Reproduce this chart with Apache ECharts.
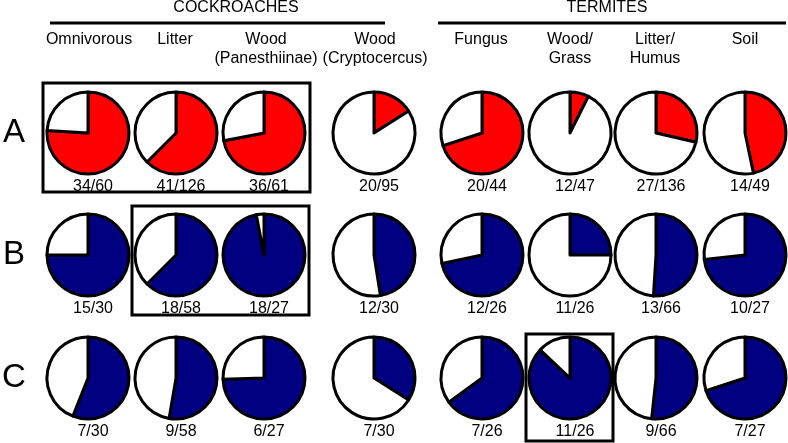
<!DOCTYPE html>
<html>
<head>
<meta charset="utf-8">
<script src="https://cdn.jsdelivr.net/npm/echarts@6/dist/echarts.min.js"></script>
<style>
  html, body { margin: 0; padding: 0; background: #fff; }
  #chart { width: 788px; height: 443px; }
</style>
</head>
<body>
<div id="chart"></div>
<script>
// column headers (two lines each)
const columns = [
  ["Omnivorous", ""],
  ["Litter", ""],
  ["Wood", "(Panesthiinae)"],
  ["Wood", "(Cryptocercus)"],
  ["Fungus", ""],
  ["Wood/", "Grass"],
  ["Litter/", "Humus"],
  ["Soil", ""],
];
const rows = ["A", "B", "C"];

// coloured share of each pie (row x column)
const shareA = [0.76, 0.625, 0.72, 0.16, 0.70, 0.074, 0.286, 0.467];
const shareB = [0.75, 0.625, 0.97, 0.475, 0.717, 0.25, 0.51, 0.733];
const shareC = [0.56, 0.527, 0.745, 0.34, 0.65, 0.87, 0.517, 0.70];

// counts printed under each pie
const countsA = ["34/60", "41/126", "36/61", "20/95", "20/44", "12/47", "27/136", "14/49"];
const countsB = ["15/30", "18/58", "18/27", "12/30", "12/26", "11/26", "13/66", "10/27"];
const countsC = ["7/30", "9/58", "6/27", "7/30", "7/26", "11/26", "9/66", "7/27"];

const shares = [shareA, shareB, shareC];
const counts = [countsA, countsB, countsC];
const rowColors = ["#ff0000", "#000080", "#000080"];

const colX = [88, 176, 264, 374, 482, 570, 656, 745];
const headX = [89, 175, 266, 375, 481, 570, 655, 745];
const rowY = [133, 255, 378];
const radius = 41;
const font = "Liberation Sans, Arial, sans-serif";

const chart = echarts.init(document.getElementById("chart"));

const series = [];
const titles = [];
shares.forEach((rowShares, r) => {
  rowShares.forEach((s, c) => {
    series.push({
      type: "pie",
      center: [colX[c], rowY[r]],
      radius: [0, radius],
      startAngle: 90,
      clockwise: true,
      silent: true,
      label: { show: false },
      labelLine: { show: false },
      emphasis: { disabled: true },
      itemStyle: { borderColor: "#000", borderWidth: 3 },
      data: [
        { value: s, itemStyle: { color: rowColors[r] } },
        { value: 1 - s, itemStyle: { color: "#fff" } },
      ],
    });
    titles.push({
      text: counts[r][c],
      left: colX[c],
      top: rowY[r] + 41,
      textAlign: "center",
      textStyle: { fontSize: 16, fontWeight: "normal", color: "#000", fontFamily: font },
    });
  });
});

const graphics = [];
// group headers and rules
graphics.push(
  { type: "text", x: 236, y: 0, style: { text: "COCKROACHES", font: "16px " + font, fill: "#000", align: "center" } },
  { type: "line", shape: { x1: 50, y1: 23, x2: 385, y2: 23 }, style: { stroke: "#000", lineWidth: 3 } },
  { type: "text", x: 607, y: 0, style: { text: "TERMITES", font: "16px " + font, fill: "#000", align: "center" } },
  { type: "line", shape: { x1: 438, y1: 23, x2: 786, y2: 23 }, style: { stroke: "#000", lineWidth: 3 } }
);
columns.forEach((col, c) => {
  col.forEach((line, k) => {
    if (!line) return;
    graphics.push({
      type: "text",
      x: headX[c],
      y: 32 + k * 19,
      style: { text: line, font: "16px " + font, fill: "#000", align: "center" },
    });
  });
});
rows.forEach((name, r) => {
  graphics.push({
    type: "text",
    x: 14,
    y: rowY[r] - 17,
    style: { text: name, font: "33px " + font, fill: "#000", align: "center" },
  });
});
// highlight boxes
const boxes = [
  [43, 83, 267, 109],
  [132, 206, 177, 109],
  [526, 334, 87, 107],
];
boxes.forEach((b) => {
  graphics.push({
    type: "rect",
    shape: { x: b[0], y: b[1], width: b[2], height: b[3] },
    style: { fill: "none", stroke: "#000", lineWidth: 3 },
    z: 10,
  });
});

chart.setOption({
  animation: false,
  backgroundColor: "#fff",
  title: titles,
  series: series,
  graphic: graphics,
});
</script>
</body>
</html>
